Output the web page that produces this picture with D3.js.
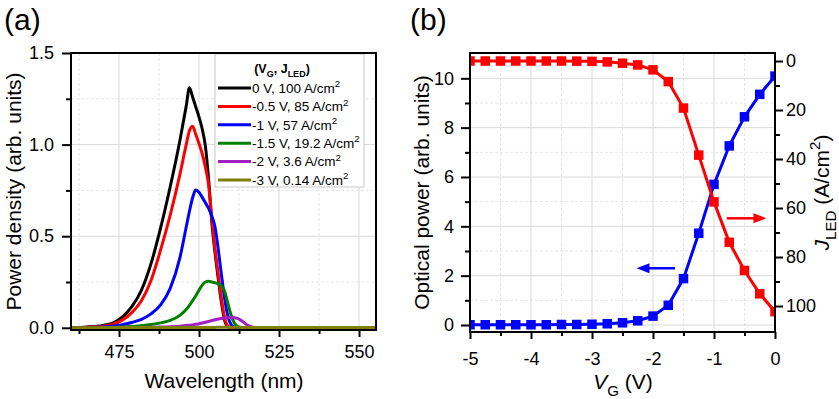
<!DOCTYPE html>
<html><head><meta charset="utf-8">
<script src="https://cdn.jsdelivr.net/npm/d3@7"></script>
<style>body{margin:0;background:#fff;} svg{display:block;font-family:"Liberation Sans",Arial,Helvetica,sans-serif;}</style>
</head><body><svg id="c" width="839" height="399"></svg>
<script>
// ---------- Panel (a) data ----------
const wavelength = [460,465,470,473,476,479,482,485,488,491,494,496,497,498,499,500,501,502,503,504,505,506,507,508,509,510,511,512,513,514,515,516,517,518,520,530,540,556];
const spec0V   = [0,0.004,0.013,0.026,0.058,0.115,0.205,0.350,0.545,0.770,1.020,1.210,1.310,1.260,1.205,1.150,1.085,0.990,0.810,0.575,0.410,0.270,0.140,0.040,0.006,0,0,0,0,0,0,0,0,0,0,0,0,0];
const spec05V  = [0,0.003,0.009,0.019,0.042,0.083,0.148,0.258,0.425,0.615,0.835,1.000,1.075,1.100,1.055,1.005,0.950,0.875,0.780,0.595,0.430,0.290,0.160,0.055,0.010,0,0,0,0,0,0,0,0,0,0,0,0,0];
const spec1V   = [0,0.002,0.005,0.009,0.017,0.029,0.046,0.076,0.125,0.215,0.380,0.550,0.635,0.710,0.752,0.740,0.712,0.682,0.652,0.610,0.550,0.430,0.290,0.160,0.065,0.018,0.004,0,0,0,0,0,0,0,0,0,0,0];
const spec15V  = [0,0,0.001,0.002,0.004,0.007,0.011,0.018,0.027,0.040,0.068,0.100,0.122,0.148,0.175,0.205,0.233,0.250,0.254,0.250,0.246,0.240,0.228,0.200,0.135,0.070,0.028,0.009,0.003,0.001,0,0,0,0,0,0,0,0];
const spec2V   = [0,0,0.001,0.001,0.001,0.002,0.002,0.003,0.004,0.006,0.009,0.012,0.014,0.016,0.019,0.022,0.026,0.030,0.035,0.040,0.044,0.048,0.051,0.053,0.055,0.056,0.055,0.051,0.042,0.029,0.016,0.008,0.003,0.001,0,0,0,0];
const spec3V   = [0,0,0.001,0.001,0.001,0.001,0.001,0.001,0.001,0.001,0.001,0.001,0.001,0.001,0.001,0.001,0.001,0.002,0.002,0.002,0.002,0.003,0.003,0.003,0.003,0.003,0.003,0.003,0.002,0.002,0.001,0.001,0.001,0.001,0.001,0.001,0.001,0.001];
const seriesLabels = ["0 V, 100 A/cm", "-0.5 V, 85 A/cm", "-1 V, 57 A/cm", "-1.5 V, 19.2 A/cm", "-2 V, 3.6 A/cm", "-3 V, 0.14 A/cm"];
const seriesColors = ["#000000", "#ff0000", "#0000ff", "#008000", "#a020c0", "#808000"];
const xTicksA = [475, 500, 525, 550];
const xMinorA = [462.5, 487.5, 512.5, 537.5];
const yTicksA = [0, 0.5, 1.0, 1.5];
const yMinorA = [0.25, 0.75, 1.25];

// ---------- Panel (b) data ----------
const gateVoltage = [-5,-4.75,-4.5,-4.25,-4,-3.75,-3.5,-3.25,-3,-2.75,-2.5,-2.25,-2,-1.75,-1.5,-1.25,-1,-0.75,-0.5,-0.25,0];
const opticalPower = [0.01,0.01,0.01,0.01,0.01,0.01,0.02,0.02,0.03,0.05,0.09,0.17,0.36,0.80,1.88,3.72,5.70,7.26,8.44,9.35,10.09];
const jLED = [0,0,0,0,0,0,0,0.05,0.14,0.35,0.9,1.6,3.6,8.4,19.2,38.4,57.5,74.0,85.5,95.0,102.3];
const xTicksB = [-5,-4,-3,-2,-1,0];
const xMinorB = [-4.5,-3.5,-2.5,-1.5,-0.5];
const yTicksB = [0,2,4,6,8,10];
const yMinorB = [1,3,5,7,9];
const yTicksBR = [0,20,40,60,80,100];
const yMinorBR = [10,30,50,70,90];

const svg = d3.select("#c");
const TICKFS = 18, TITLEFS = 21;

function rich(text, parts, size) {
  let shift = 0;
  parts.forEach(p => {
    const ts = text.append("tspan").text(p.t);
    let target = 0, fs = size;
    if (p.sub) { target = size * 0.32; fs = size * 0.72; }
    if (p.sup) { target = -size * 0.42; fs = size * 0.72; }
    ts.attr("font-size", fs).attr("dy", target - shift);
    if (p.italic) ts.attr("font-style", "italic");
    shift = target;
  });
}

function styleAxis(g) {
  g.select(".domain").remove();
  g.selectAll(".tick line").attr("stroke", "#000").attr("stroke-width", 2);
  g.selectAll(".tick text").attr("font-size", TICKFS).attr("fill", "#000").attr("font-family", '"Liberation Sans",Arial,sans-serif');
}

function grid(g, x, y, xMaj, xMin, yMaj, yMin, box) {
  const gg = g.append("g");
  xMin.forEach(v => gg.append("line").attr("x1", x(v)).attr("x2", x(v)).attr("y1", box.t).attr("y2", box.b).attr("stroke", "#e6e6e6").attr("stroke-dasharray", "3,2"));
  yMin.forEach(v => gg.append("line").attr("y1", y(v)).attr("y2", y(v)).attr("x1", box.l).attr("x2", box.r).attr("stroke", "#e6e6e6").attr("stroke-dasharray", "3,2"));
  xMaj.forEach(v => gg.append("line").attr("x1", x(v)).attr("x2", x(v)).attr("y1", box.t).attr("y2", box.b).attr("stroke", "#d9d9d9"));
  yMaj.forEach(v => gg.append("line").attr("y1", y(v)).attr("y2", y(v)).attr("x1", box.l).attr("x2", box.r).attr("stroke", "#d9d9d9"));
}

// ================= Panel (a) =================
const A = {l: 71, r: 376, t: 53, b: 330};
const xA = d3.scaleLinear().domain([460, 555.3]).range([A.l, A.r]);
const yA = d3.scaleLinear().domain([-0.012, 1.5]).range([A.b, A.t]);

svg.append("clipPath").attr("id", "clipA").append("rect").attr("x", A.l).attr("y", A.t).attr("width", A.r - A.l).attr("height", A.b - A.t);
grid(svg, xA, yA, xTicksA, xMinorA, yTicksA, yMinorA, A);

const specs = [spec0V, spec05V, spec1V, spec15V, spec2V, spec3V];
const lineA = d3.line().x(d => xA(d[0])).y(d => yA(d[1])).curve(d3.curveMonotoneX);
const gA = svg.append("g").attr("clip-path", "url(#clipA)");
specs.forEach((s, i) => {
  gA.append("path").datum(wavelength.map((w, j) => [w, s[j]]))
    .attr("d", lineA).attr("fill", "none").attr("stroke", seriesColors[i])
    .attr("stroke-width", 3).attr("stroke-linejoin", "round");
});

// axes a
svg.append("g").attr("transform", `translate(0,${A.b})`).call(d3.axisBottom(xA).tickValues(xMinorA).tickSize(4).tickFormat("")).call(styleAxis);
svg.append("g").attr("transform", `translate(0,${A.b})`).call(d3.axisBottom(xA).tickValues(xTicksA).tickSize(7).tickPadding(8).tickFormat(d3.format("d"))).call(styleAxis);
svg.append("g").attr("transform", `translate(${A.l},0)`).call(d3.axisLeft(yA).tickValues(yMinorA).tickSize(5).tickFormat("")).call(styleAxis);
svg.append("g").attr("transform", `translate(${A.l},0)`).call(d3.axisLeft(yA).tickValues(yTicksA).tickSize(9).tickPadding(8).tickFormat(d3.format(".1f"))).call(styleAxis);

// legend a
const lg = svg.append("g");
lg.append("rect").attr("x", 215).attr("y", 54).attr("width", 149).attr("height", 133).attr("fill", "#fff").attr("stroke", "#c8c8c8").attr("stroke-width", 1);
const hdr = lg.append("text").attr("x", 282).attr("y", 72.5).attr("text-anchor", "middle").attr("font-weight", "bold").attr("font-size", 12.5);
rich(hdr, [{t: "(V"}, {t: "G", sub: true}, {t: ", J"}, {t: "LED", sub: true}, {t: ")"}], 12.5);
seriesLabels.forEach((lab, i) => {
  const yy = 88 + i * 18.4;
  lg.append("line").attr("x1", 218).attr("x2", 251).attr("y1", yy).attr("y2", yy).attr("stroke", seriesColors[i]).attr("stroke-width", 3);
  const t = lg.append("text").attr("x", 252).attr("y", yy + 4.8).attr("font-size", 13.5).attr("fill", "#000");
  rich(t, [{t: lab}, {t: "2", sup: true}], 13.5);
});

svg.append("rect").attr("x", A.l).attr("y", A.t).attr("width", A.r - A.l).attr("height", A.b - A.t).attr("fill", "none").attr("stroke", "#000").attr("stroke-width", 2);

// titles a
svg.append("text").attr("x", 224).attr("y", 388).attr("text-anchor", "middle").attr("font-size", TITLEFS).text("Wavelength (nm)");
svg.append("text").attr("transform", `translate(21,${(A.t + A.b) / 2}) rotate(-90)`).attr("text-anchor", "middle").attr("font-size", TITLEFS).text("Power density (arb. units)");
svg.append("text").attr("x", 4).attr("y", 30).attr("font-size", 30).text("(a)");

// ================= Panel (b) =================
const B = {l: 470, r: 775, t: 53, b: 332};
const xB = d3.scaleLinear().domain([-5, 0]).range([B.l, B.r]);
const yB = d3.scaleLinear().domain([-0.284, 11.026]).range([B.b, B.t]);
const yBR = d3.scaleLinear().domain([110.6, -3.27]).range([B.b, B.t]);

svg.append("clipPath").attr("id", "clipB").append("rect").attr("x", B.l).attr("y", B.t).attr("width", B.r - B.l).attr("height", B.b - B.t);
grid(svg, xB, yB, xTicksB, xMinorB, yTicksB, yMinorB, B);

const gB = svg.append("g").attr("clip-path", "url(#clipB)");
const ptsP = gateVoltage.map((v, i) => [v, opticalPower[i]]);
const ptsJ = gateVoltage.map((v, i) => [v, jLED[i]]);
const MS = 9.5;
gB.append("path").datum(ptsP).attr("d", d3.line().x(d => xB(d[0])).y(d => yB(d[1]))).attr("fill", "none").attr("stroke", "#0000ff").attr("stroke-width", 3);
gB.selectAll("rect.p").data(ptsP).enter().append("rect").attr("x", d => xB(d[0]) - MS / 2).attr("y", d => yB(d[1]) - MS / 2).attr("width", MS).attr("height", MS).attr("fill", "#0000ff");
gB.append("path").datum(ptsJ).attr("d", d3.line().x(d => xB(d[0])).y(d => yBR(d[1]))).attr("fill", "none").attr("stroke", "#ff0000").attr("stroke-width", 3);
gB.selectAll("rect.j").data(ptsJ).enter().append("rect").attr("x", d => xB(d[0]) - MS / 2).attr("y", d => yBR(d[1]) - MS / 2).attr("width", MS).attr("height", MS).attr("fill", "#ff0000");

// arrows
function arrow(x1, y1, x2, y2, color) {
  const dir = Math.sign(x2 - x1);
  svg.append("line").attr("x1", x1).attr("y1", y1).attr("x2", x2 - dir * 10).attr("y2", y2).attr("stroke", color).attr("stroke-width", 2.5);
  svg.append("path").attr("d", `M${x2},${y2} L${x2 - dir * 13},${y2 - 5} L${x2 - dir * 13},${y2 + 5} Z`).attr("fill", color);
}
arrow(xB(-1.64), yB(2.3), xB(-2.27), yB(2.3), "#0000ff");
arrow(xB(-0.79), yBR(64.2), xB(-0.14), yBR(64.2), "#ff0000");

const fmtH = d => String(d);
svg.append("g").attr("transform", `translate(0,${B.b})`).call(d3.axisBottom(xB).tickValues(xMinorB).tickSize(4).tickFormat("")).call(styleAxis);
svg.append("g").attr("transform", `translate(0,${B.b})`).call(d3.axisBottom(xB).tickValues(xTicksB).tickSize(7).tickPadding(13).tickFormat(fmtH)).call(styleAxis);
svg.append("g").attr("transform", `translate(${B.l},0)`).call(d3.axisLeft(yB).tickValues(yMinorB).tickSize(5).tickFormat("")).call(styleAxis);
svg.append("g").attr("transform", `translate(${B.l},0)`).call(d3.axisLeft(yB).tickValues(yTicksB).tickSize(9).tickPadding(7).tickFormat(fmtH)).call(styleAxis);
svg.append("g").attr("transform", `translate(${B.r},0)`).call(d3.axisRight(yBR).tickValues(yMinorBR).tickSize(5).tickFormat("")).call(styleAxis);
svg.append("g").attr("transform", `translate(${B.r},0)`).call(d3.axisRight(yBR).tickValues(yTicksBR).tickSize(8).tickPadding(3).tickFormat(fmtH)).call(styleAxis);

svg.append("rect").attr("x", B.l).attr("y", B.t).attr("width", B.r - B.l).attr("height", B.b - B.t).attr("fill", "none").attr("stroke", "#000").attr("stroke-width", 2);

const xtB = svg.append("text").attr("x", 623).attr("y", 389).attr("text-anchor", "middle").attr("font-size", TITLEFS);
rich(xtB, [{t: "V", italic: true}, {t: "G", sub: true}, {t: " (V)"}], TITLEFS);
svg.append("text").attr("transform", `translate(429,${(B.t + B.b) / 2}) rotate(-90)`).attr("text-anchor", "middle").attr("font-size", TITLEFS).text("Optical power (arb. units)");
const ytR = svg.append("text").attr("transform", `translate(829,${(B.t + B.b) / 2}) rotate(-90)`).attr("text-anchor", "middle").attr("font-size", TITLEFS);
rich(ytR, [{t: "J", italic: true}, {t: "LED", sub: true}, {t: " (A/cm"}, {t: "2", sup: true}, {t: ")"}], TITLEFS);
svg.append("text").attr("x", 410).attr("y", 30).attr("font-size", 30).text("(b)");
</script></body></html>
